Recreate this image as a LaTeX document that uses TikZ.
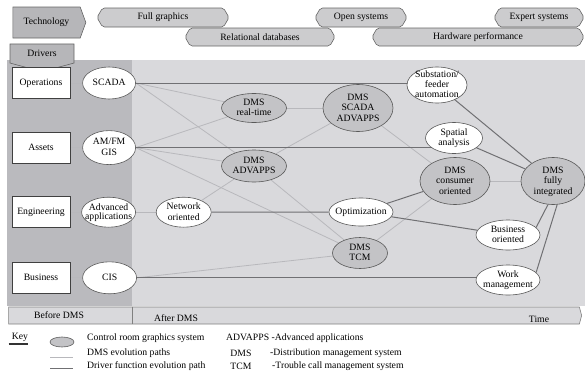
\documentclass[tikz,border=0pt]{standalone}
\usepackage{fontspec}
\setmainfont{Liberation Serif}
\usepackage{tikz}
\usetikzlibrary{shapes,positioning,backgrounds}
\definecolor{band}{RGB}{186,186,190}
\definecolor{field}{RGB}{217,217,220}
\definecolor{ctrl}{RGB}{195,195,198}
\definecolor{banner}{RGB}{204,204,206}
\definecolor{headgray}{RGB}{182,182,185}
\definecolor{lightpath}{RGB}{184,184,188}
\definecolor{darkpath}{RGB}{112,112,115}
\newcommand{\etext}[1]{\smash{\makebox[0pt]{\raisebox{-3pt}{\begin{tabular}{@{}c@{}}#1\end{tabular}}}}}
\tikzstyle{driver} = [rectangle, draw=black!75, line width=0.6pt, fill=white, minimum width=58pt, minimum height=31pt, inner sep=0pt]
\tikzstyle{func} = [ellipse, draw=black!65, line width=0.6pt, fill=white, inner sep=0pt]
\tikzstyle{ctrlsys} = [ellipse, draw=black!65, line width=0.6pt, fill=ctrl, inner sep=0pt]
\tikzstyle{tech} = [signal, signal to=west and east, signal pointer angle=120, draw=black!60, line width=0.6pt, fill=banner, rounded corners=2pt, inner sep=0pt]
\tikzstyle{head} = [signal, draw=black!60, line width=0.6pt, fill=headgray, inner sep=0pt]
\tikzstyle{keytext} = [anchor=west, inner sep=0pt]
\tikzstyle{evo} = [draw=lightpath, line width=0.8pt]
\tikzstyle{drv} = [draw=darkpath, line width=1pt]

\begin{document}
\begin{tikzpicture}[x=1pt, y=1pt, font=\fontsize{9.7}{10.5}\selectfont]
\useasboundingbox (0,0) rectangle (585,-375);

% panels =============================
\begin{scope}[on background layer]
\fill[band] (7,-60) rectangle (132,-306);
\fill[field] (132,-60) rectangle (585,-306);
\end{scope}
\coordinate (split) at (132,-306);

% technology =============================
\node[head, signal to=east, signal pointer angle=140, minimum width=73pt, minimum height=31pt] (techno) at (46.5,-22.5) {Technology};
\node[head, signal to=south, signal pointer angle=150, minimum width=64pt, minimum height=23pt] (drivers) at (42,-53.5) {Drivers};

\node[tech, minimum width=132pt, minimum height=19pt] (fullg) at (163,-17.5) {Full graphics};
\node[tech, minimum width=150pt, minimum height=18pt] (reldb) at (260,-37) {Relational databases};
\node[tech, minimum width=92pt, minimum height=19pt] (opensys) at (361,-17.5) {Open systems};
\node[tech, minimum width=90pt, minimum height=19pt] (expert) at (539,-17.5) {Expert systems};
\node[tech, minimum width=212pt, minimum height=18pt] (hwperf) at (478,-37) {Hardware performance};

% drivers =============================
\node[driver] (ops) at (41,-83) {Operations};
\node[driver, below=33pt of ops] (assets) {Assets};
\node[driver, below=33pt of assets] (eng) {Engineering};
\node[driver, below=34pt of eng] (bus) {Business};

% before DMS
\node[func, minimum width=53pt, minimum height=32pt, right=12pt of ops] (scada) {\etext{SCADA}};
\node[func, minimum width=53pt, minimum height=34pt, right=12pt of assets] (amfm) {\etext{AM/FM\\GIS}};
\node[func, minimum width=54pt, minimum height=30pt, right=11pt of eng, font=\fontsize{9.7}{8.8}\selectfont] (adv) {\etext{Advanced\\applications}};
\node[func, minimum width=54pt, minimum height=32pt, right=12pt of bus] (cis) {\etext{CIS}};

% after DMS
\node[func, minimum width=55pt, minimum height=30pt, right=20pt of adv] (net) {\etext{Network\\oriented}};
\node[ctrlsys, minimum width=65pt, minimum height=29pt] (rt) at (254,-108) {\etext{DMS\\real-time}};
\node[ctrlsys, minimum width=65pt, minimum height=32pt] (advapps) at (254,-166) {\etext{DMS\\ADVAPPS}};
\node[ctrlsys, minimum width=70pt, minimum height=47pt] (scadv) at (358,-108) {\etext{DMS\\SCADA\\ADVAPPS}};
\node[func, minimum width=60pt, minimum height=36pt, font=\fontsize{9.7}{9.6}\selectfont] (subst) at (437,-85) {\etext{Substation/\\feeder\\automation}};
\node[func, minimum width=57pt, minimum height=31pt] (spatial) at (454,-138) {\etext{Spatial\\analysis}};
\node[ctrlsys, minimum width=70pt, minimum height=47pt] (consumer) at (455,-181) {\etext{DMS\\consumer\\oriented}};
\node[ctrlsys, minimum width=64pt, minimum height=47pt] (full) at (553,-181) {\etext{DMS\\fully\\integrated}};
\node[func, minimum width=64pt, minimum height=28pt] (opt) at (361,-212) {\etext{Optimization}};
\node[ctrlsys, minimum width=55pt, minimum height=31pt] (tcm) at (360,-253) {\etext{DMS\\TCM}};
\node[func, minimum width=64pt, minimum height=30pt] (busor) at (508,-235) {\etext{Business\\oriented}};
\node[func, minimum width=64pt, minimum height=30pt] (work) at (508,-280) {\etext{Work\\management}};

% time bar
\node[signal, signal to=east, signal pointer angle=150, draw=black!50, line width=0.6pt, fill=field, minimum width=573pt, minimum height=17pt] (timebar) at (294,-315.5) {};
\draw[black!50, line width=0.6pt] (timebar.north -| split) -- (timebar.south -| split);
\node (before) at (59,-315) {Before DMS};
\node (after) at (176,-318) {After DMS};
\node (time) at (539,-319) {Time};

%edges
\begin{scope}[on background layer]
\path[evo] (ops) -- (scada);
\path[evo] (assets) -- (amfm);
\path[evo] (eng) -- (adv);
\path[evo] (bus) -- (cis);
\path[evo] (adv) -- (net);

\path[evo] (scada.east) -- (rt);
\path[evo] (scada.east) -- (advapps);
\path[evo] (amfm.east) -- (rt);
\path[evo] (amfm.east) -- (advapps);
\path[evo] (amfm.east) -- (tcm);
\path[evo] (net) -- (advapps);
\path[evo] (cis.east) -- (tcm);
\path[evo] (rt) -- (scadv);
\path[evo] (advapps) -- (scadv);
\path[evo] (advapps) -- (tcm);
\path[evo] (scadv) -- (consumer);
\path[evo] (tcm) -- (consumer);
\path[evo] (consumer) -- (full);

\path[drv] (scada) -- (scada -| subst);
\path[drv] (amfm) -- (amfm -| spatial);
\path[drv] (net) -- (opt);
\path[drv] (cis) -- (cis -| work);
\path[drv] (opt) -- (consumer);
\path[drv] (opt) -- (busor);
\path[drv] (subst) -- (full);
\path[drv] (spatial) -- (full);
\path[drv] (full.258) -- (busor.15);
\path[drv] (full.280) -- (work.15);
\end{scope}

% key =============================
\node[inner sep=0pt] (key) at (20,-337) {Key};
\draw[line width=1.3pt, black!80] ([xshift=-3pt,yshift=-2.5pt]key.south west) -- ([yshift=-2.5pt]key.south east);
\node[ctrlsys, minimum width=24pt, minimum height=10pt] (keyell) at (62,-342) {};
\coordinate (evoa) at (50,-357);
\coordinate (evob) at (73,-357);
\coordinate (drva) at (50,-368);
\coordinate (drvb) at (73,-368);
\path[evo] (evoa) -- (evob);
\path[drv] (drva) -- (drvb);
\node[keytext] (kctrl) at (87,-338) {Control room graphics system};
\node[keytext] (kevo) at (87,-353) {DMS evolution paths};
\node[keytext] (kdrv) at (87,-366) {Driver function evolution path};
\node[keytext] (kadv) at (226,-338) {ADVAPPS -Advanced applications};
\node[inner sep=0pt] (kdms) at (241,-353) {DMS};
\node[keytext] (kdmsx) at (270,-353) {-Distribution management system};
\node[inner sep=0pt] (ktcm) at (241,-366) {TCM};
\node[keytext] (ktcmx) at (272,-366) {-Trouble call management system};

\end{tikzpicture}
\end{document}
